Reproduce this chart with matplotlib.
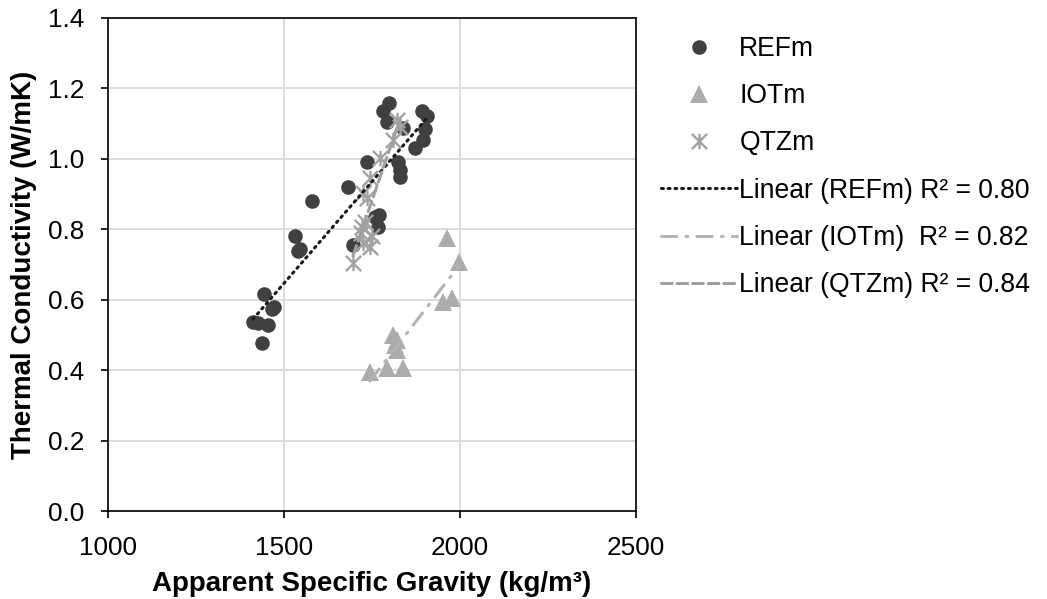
import numpy as np
import matplotlib
matplotlib.use("Agg")
import matplotlib.pyplot as plt
from matplotlib.path import Path

plt.rcParams['font.family'] = ['Liberation Sans', 'DejaVu Sans']

# Apparent specific gravity (kg/m3) and thermal conductivity (W/mK)
ref_x = [1412, 1426, 1455, 1437, 1443, 1466, 1472, 1531, 1540, 1545, 1580,
         1682, 1696, 1736, 1758, 1767, 1770, 1781, 1792, 1798, 1824, 1830,
         1830, 1838, 1872, 1892, 1895, 1900, 1906]
ref_y = [0.537, 0.534, 0.528, 0.477, 0.616, 0.574, 0.580, 0.781, 0.738, 0.745,
         0.880, 0.920, 0.755, 0.991, 0.835, 0.807, 0.840, 1.136, 1.105, 1.159,
         0.991, 0.968, 0.949, 1.088, 1.031, 1.136, 1.054, 1.085, 1.122]

iot_x = [1744, 1792, 1838, 1810, 1821, 1821, 1816, 1963, 1997, 1952, 1977]
iot_y = [0.395, 0.406, 0.406, 0.500, 0.486, 0.457, 0.470, 0.775, 0.707, 0.594, 0.605]

qtz_x = [1696, 1718, 1722, 1725, 1730, 1744, 1750, 1724, 1736, 1744, 1773,
         1810, 1821, 1830]
qtz_y = [0.704, 0.790, 0.807, 0.761, 0.820, 0.750, 0.780, 0.903, 0.889, 0.946,
         1.003, 1.054, 1.110, 1.090]

series_names = ["REFm", "IOTm", "QTZm"]
r2_labels = ["R\u00b2 = 0.80", "R\u00b2 = 0.82", "R\u00b2 = 0.84"]

x_ticks = [1000, 1500, 2000, 2500]
y_ticks = [0.0, 0.2, 0.4, 0.6, 0.8, 1.0, 1.2, 1.4]

# Excel-style star marker: an X with a vertical bar
star = Path([(0, -1), (0, 1), (-1, -1), (1, 1), (-1, 1), (1, -1)],
            [Path.MOVETO, Path.LINETO, Path.MOVETO, Path.LINETO,
             Path.MOVETO, Path.LINETO])

FS = 18.8
FS_LEG = 19.1
FS_LAB = 20
fig = plt.figure(figsize=(10.47, 5.99), dpi=100)
ax = fig.add_axes([0.1032, 0.1469, 0.5042, 0.8231])

c_ref = "#404040"
c_iot = "#acacac"
c_qtz = "#a2a2a2"

h1, = ax.plot(ref_x, ref_y, 'o', color=c_ref, ms=10.5, mew=0, label=series_names[0], zorder=3)
h2, = ax.plot(iot_x, iot_y, '^', color=c_iot, ms=13, mew=0, label=series_names[1], zorder=3)
h3, = ax.plot(qtz_x, qtz_y, ls='none', marker=star, color=c_qtz, ms=11, mew=1.7,
              mfc='none', label=series_names[2], zorder=3)


def trend(xs, ys):
    xs = np.asarray(xs, float)
    ys = np.asarray(ys, float)
    k, b = np.polyfit(xs, ys, 1)
    xx = np.array([xs.min(), xs.max()])
    return xx, k * xx + b


tx, ty = trend(ref_x, ref_y)
l1, = ax.plot(tx, ty, color="#1a1a1a", lw=2.2, ls=(0, (0.6, 1.6)),
              dash_capstyle='round', zorder=4,
              label=f"Linear ({series_names[0]}) {r2_labels[0]}")
tx, ty = trend(iot_x, iot_y)
l2, = ax.plot(tx, ty, color="#b4b4b4", lw=2.2, ls=(0, (5, 3, 0.6, 3)),
              dash_capstyle='round', zorder=4,
              label=f"Linear ({series_names[1]})  {r2_labels[1]}")
tx, ty = trend(qtz_x, qtz_y)
l3, = ax.plot(tx, ty, color="#a0a0a0", lw=2.2, ls=(0, (3.5, 1.6)),
              dash_capstyle='round', zorder=4,
              label=f"Linear ({series_names[2]}) {r2_labels[2]}")

ax.set_xlim(1000, 2500)
ax.set_ylim(0, 1.4)
ax.set_xticks(x_ticks)
ax.set_xticklabels([str(v) for v in x_ticks])
ax.set_yticks(y_ticks)
ax.set_yticklabels([f"{v:.1f}" for v in y_ticks])
ax.grid(True, color="#d9d9d9", lw=1.3)
ax.set_axisbelow(True)
for s in ax.spines.values():
    s.set_color("black")
    s.set_linewidth(1.2)
ax.tick_params(axis='both', direction='out', length=5, width=1.2,
               labelsize=FS, colors='black')
ax.tick_params(axis='y', pad=12)
ax.tick_params(axis='x', pad=13)

ax.set_xlabel("Apparent Specific Gravity (kg/m\u00b3)", fontsize=FS_LAB, fontweight='bold', labelpad=8)
ax.set_ylabel("Thermal Conductivity (W/mK)", fontsize=FS_LAB, fontweight='bold', labelpad=8)

leg = fig.legend(handles=[h1, h2, h3, l1, l2, l3], loc='upper left',
                 bbox_to_anchor=(661 / 1047, 1 - 36 / 599), frameon=False,
                 fontsize=FS_LEG, handlelength=2.85, handletextpad=0.1,
                 labelspacing=0.8, borderpad=0, borderaxespad=0)

fig.savefig("out.png", dpi=100)
